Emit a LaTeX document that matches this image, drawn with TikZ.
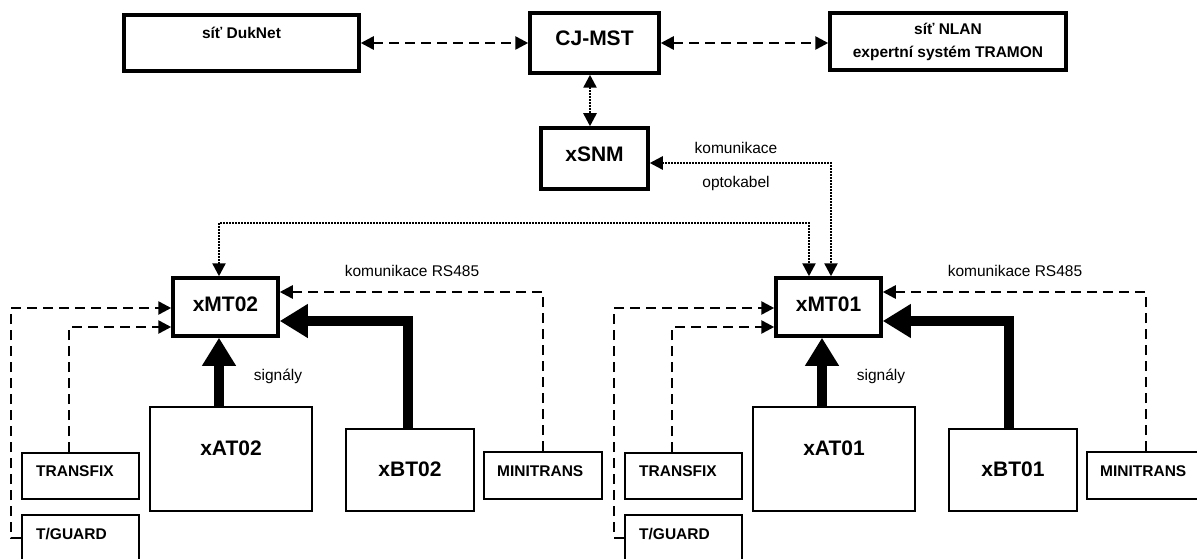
\documentclass[tikz,border=0pt]{standalone}
\usepackage{fontspec}
\setmainfont{Liberation Sans}
\usetikzlibrary{arrows.meta}
\tikzset{
  hbox/.style={draw, line width=3.5pt, inner sep=0pt},
  tbox/.style={draw, line width=2pt, inner sep=0pt},
  lbl/.style={font=\bfseries\fontsize{15.5}{23}\selectfont, inner sep=0pt, align=center},
  big/.style={font=\bfseries\fontsize{21}{24}\selectfont, inner sep=0pt},
  plain/.style={font=\fontsize{15.5}{18}\selectfont, inner sep=0pt},
  smalltip/.tip={Triangle[length=13pt,width=13pt]},
  dashboth/.style={line width=2.6pt, dash pattern=on 10pt off 6pt, {smalltip}-{smalltip}},
  dasharr/.style={line width=2.6pt, dash pattern=on 10pt off 6pt, -{smalltip}, line join=miter},
  dotboth/.style={line width=2.5pt, dash pattern=on 1.5pt off 1.5pt, {smalltip}-{smalltip}},
  bigarr/.style={line width=10pt, -{Triangle[length=28pt,width=32pt]}, line join=miter},
}
\begin{document}
\begin{tikzpicture}[x=1pt,y=-1pt]
\useasboundingbox (0,0) rectangle (1197,559);
\clip (0,0) rectangle (1197,559);

% top row
\node[hbox, minimum width=235pt, minimum height=56pt] (duk) at (241.5,43) {};
\node[hbox, minimum width=129pt, minimum height=60pt] (cj) at (594.5,43) {};
\node[hbox, minimum width=236pt, minimum height=57pt] (nlan) at (948,41.5) {};
\node[hbox, minimum width=107pt, minimum height=61pt] (snm) at (594.5,158.5) {};

\node[lbl] (tduk) at (241.5,33) {síť DukNet};
\node[big] (tcj) at (594.5,38) {CJ-MST};
\node[lbl] (tnlan) at (948,41.5) {síť NLAN\\expertní systém TRAMON};
\node[big] (tsnm) at (594.5,154) {xSNM};

% lower boxes, left group
\node[hbox, minimum width=105pt, minimum height=58pt] (mt02) at (225.5,307) {};
\node[tbox, minimum width=162pt, minimum height=104pt] (at02) at (231,459) {};
\node[tbox, minimum width=128pt, minimum height=82pt] (bt02) at (410,470) {};
\node[tbox, minimum width=117pt, minimum height=46pt] (tf02) at (80.5,476) {};
\node[tbox, minimum width=117pt, minimum height=55pt] (tg02) at (80.5,542.5) {};
\node[tbox, minimum width=118pt, minimum height=47pt] (mi02) at (543,475.5) {};

% lower boxes, right group
\node[hbox, minimum width=105pt, minimum height=58pt] (mt01) at (828.5,307) {};
\node[tbox, minimum width=162pt, minimum height=104pt] (at01) at (834,459) {};
\node[tbox, minimum width=128pt, minimum height=82pt] (bt01) at (1013,470) {};
\node[tbox, minimum width=117pt, minimum height=46pt] (tf01) at (683.5,476) {};
\node[tbox, minimum width=117pt, minimum height=55pt] (tg01) at (683.5,542.5) {};
\node[tbox, minimum width=118pt, minimum height=47pt] (mi01) at (1146,475.5) {};

% texts
\node[big] (tmt02) at (225.5,304) {xMT02};
\node[big] (tat02) at (231,448) {xAT02};
\node[big] (tbt02) at (410,469) {xBT02};
\node[lbl, anchor=west] (ttf02) at (36,471) {TRANSFIX};
\node[lbl, anchor=west] (ttg02) at (36,534) {T/GUARD};
\node[lbl, anchor=west] (tmi02) at (497,471) {MINITRANS};
\node[plain] (rs02) at (412,271) {komunikace RS485};
\node[plain] (sg02) at (278,376) {signály};

\node[big] (tmt01) at (828.5,304) {xMT01};
\node[big] (tat01) at (834,448) {xAT01};
\node[big] (tbt01) at (1013,469) {xBT01};
\node[lbl, anchor=west] (ttf01) at (639,471) {TRANSFIX};
\node[lbl, anchor=west] (ttg01) at (639,534) {T/GUARD};
\node[lbl, anchor=west] (tmi01) at (1100,471) {MINITRANS};
\node[plain] (rs01) at (1015,271) {komunikace RS485};
\node[plain] (sg01) at (881,376) {signály};

\node[plain] (kom) at (736,148) {komunikace};
\node[plain] (opt) at (736,183) {optokabel};

% top connectors
\draw[dashboth] (duk.east) -- (cj.west);
\draw[dashboth] (cj.east) -- (cj.east -| nlan.west);
\draw[dotboth] ([xshift=-4.5pt]cj.south) -- ([xshift=-4.5pt]cj.south |- snm.north);

\coordinate (k1) at (831,163);
\draw[dotboth] (k1 -| snm.east) -- (k1) -- (k1 |- mt01.north);
\coordinate (k2) at (219,223);
\coordinate (k3) at (809,223);
\draw[dotboth] (k2 |- mt02.north) -- (k2) -- (k3) -- (k3 |- mt01.north);

% left group connectors
\coordinate (ax02) at (219,0);
\draw[bigarr] (at02.north -| ax02) -- (mt02.south -| ax02);
\coordinate (bc02) at (408,321);
\draw[bigarr] (bt02.north -| bc02) -- (bc02) -- (bc02 -| mt02.east);
\coordinate (m02) at (543,292);
\draw[dasharr] (mi02.north) -- (m02) -- (m02 -| mt02.east);
\coordinate (t02) at (69,327);
\draw[dasharr] (tf02.north -| t02) -- (t02) -- (t02 -| mt02.west);
\coordinate (g02a) at (11,538);
\coordinate (g02b) at (11,308);
\draw[dasharr] (g02a -| tg02.west) -- (g02a) -- (g02b) -- (g02b -| mt02.west);

% right group connectors
\coordinate (ax01) at (822,0);
\draw[bigarr] (at01.north -| ax01) -- (mt01.south -| ax01);
\coordinate (bc01) at (1009,321);
\draw[bigarr] (bt01.north -| bc01) -- (bc01) -- (bc01 -| mt01.east);
\coordinate (m01) at (1146,292);
\draw[dasharr] (mi01.north) -- (m01) -- (m01 -| mt01.east);
\coordinate (t01) at (672,327);
\draw[dasharr] (tf01.north -| t01) -- (t01) -- (t01 -| mt01.west);
\coordinate (g01a) at (614,538);
\coordinate (g01b) at (614,308);
\draw[dasharr] (g01a -| tg01.west) -- (g01a) -- (g01b) -- (g01b -| mt01.west);
\end{tikzpicture}
\end{document}
